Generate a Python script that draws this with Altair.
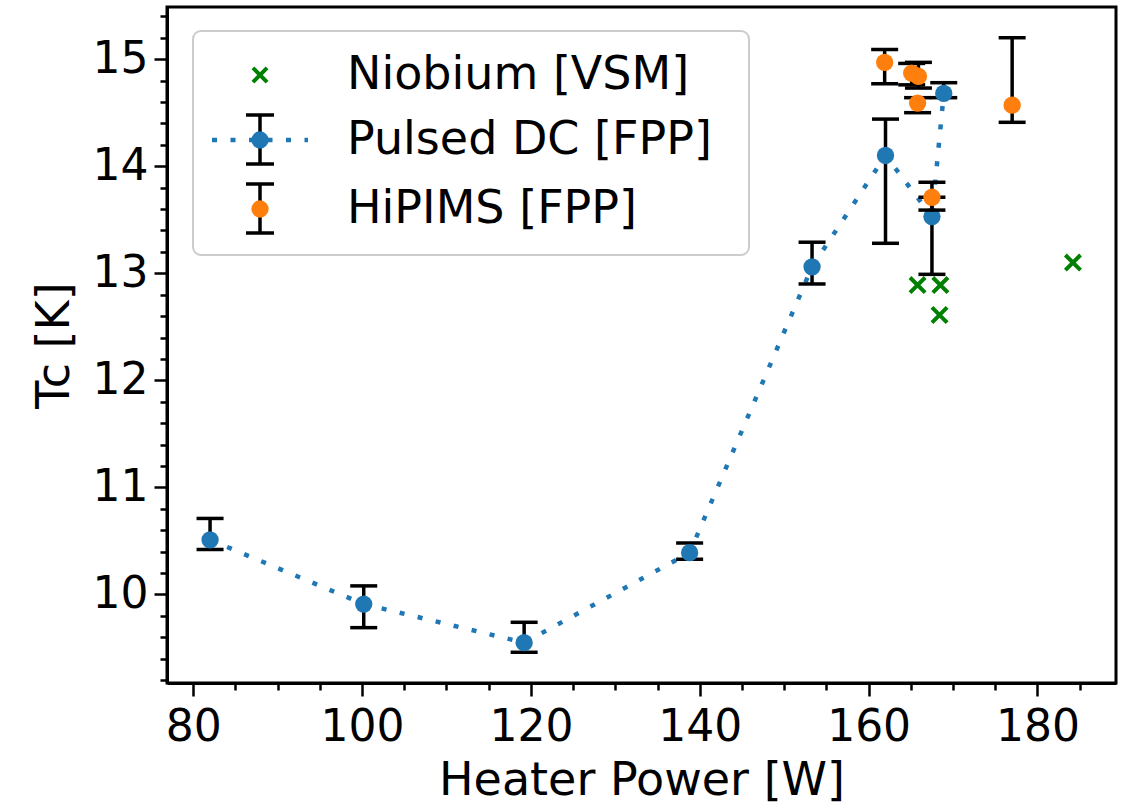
import altair as alt
import pandas as pd

# ---- data ----
pdc_x = [82.0, 100.2, 119.2, 138.8, 153.3, 162.0, 167.5, 168.9]
pdc_y = [10.51, 9.91, 9.55, 10.39, 13.06, 14.10, 13.53, 14.68]
pdc_lo = [10.42, 9.69, 9.46, 10.33, 12.90, 13.28, 12.99, 14.64]
pdc_hi = [10.71, 10.08, 9.74, 10.48, 13.29, 14.44, 13.71, 14.78]

hip_x = [161.9, 165.1, 165.9, 165.8, 167.5, 177.0]
hip_y = [14.97, 14.87, 14.84, 14.59, 13.71, 14.57]
hip_lo = [14.77, 14.76, 14.73, 14.50, 13.59, 14.41]
hip_hi = [15.09, 14.96, 14.97, 14.64, 13.85, 15.20]

nb_x = [165.8, 168.5, 168.4, 184.2]
nb_y = [12.89, 12.89, 12.61, 13.10]

legend_labels = ["Niobium [VSM]", "Pulsed DC [FPP]", "HiPIMS [FPP]"]

x_major = [80, 100, 120, 140, 160, 180]
x_ticks = [80 + 5 * i for i in range(22)]          # minor every 5 W
y_major = [10, 11, 12, 13, 14, 15]
y_ticks = [round(9.2 + 0.2 * i, 1) for i in range(32)]  # minor every 0.2 K

BLUE = "#1f77b4"
ORANGE = "#ff7f0e"
GREEN = "#008000"
FONT = "DejaVu Sans"

pdc = pd.DataFrame({"x": pdc_x, "y": pdc_y, "lo": pdc_lo, "hi": pdc_hi})
hip = pd.DataFrame({"x": hip_x, "y": hip_y, "lo": hip_lo, "hi": hip_hi})
nb = pd.DataFrame({"x": nb_x, "y": nb_y})

xaxis = alt.Axis(
    values=x_ticks,
    labelExpr="datum.value % 20 === 0 ? datum.label : ''",
    tickSize={"condition": {"test": "datum.value % 20 === 0", "value": 13}, "value": 7},
    labelPadding=9,
    titlePadding=9,
)
yaxis = alt.Axis(
    values=y_ticks,
    labelExpr="abs(datum.value - round(datum.value)) < 0.001 ? format(round(datum.value), 'd') : ''",
    tickSize={"condition": {"test": "abs(datum.value - round(datum.value)) < 0.001", "value": 13}, "value": 7},
    labelPadding=6,
    titlePadding=14,
)

xs = alt.Scale(domain=[76.9, 189.3], nice=False, zero=False)
ys = alt.Scale(domain=[9.173, 15.487], nice=False, zero=False)

X = alt.X("x:Q", scale=xs, axis=xaxis, title="Heater Power [W]")
Y = alt.Y("y:Q", scale=ys, axis=yaxis, title="Tc [K]")
Ylo = alt.Y("lo:Q", scale=ys, axis=yaxis, title="Tc [K]")
Yhi = alt.Y("hi:Q", scale=ys, axis=yaxis, title="Tc [K]")

XPATH = "M-1,-1L1,1M1,-1L-1,1"

nb_layer = alt.Chart(nb).mark_point(
    shape=XPATH, filled=False, stroke=GREEN, strokeWidth=4, size=230, opacity=1
).encode(x=X, y=Y)

def err_layers(df, color, line=False):
    layers = []
    if line:
        layers.append(
            alt.Chart(df).mark_line(color=color, strokeWidth=4.5, strokeDash=[5, 13.5]).encode(x=X, y=Y)
        )
    layers.append(
        alt.Chart(df).mark_rule(color="black", strokeWidth=3.5).encode(x=X, y=Ylo, y2="hi:Q")
    )
    layers.append(
        alt.Chart(df).mark_tick(color="black", orient="horizontal", size=27, thickness=3.5, opacity=1).encode(x=X, y=Ylo)
    )
    layers.append(
        alt.Chart(df).mark_tick(color="black", orient="horizontal", size=27, thickness=3.5, opacity=1).encode(x=X, y=Yhi)
    )
    layers.append(
        alt.Chart(df).mark_circle(color=color, size=300, opacity=1).encode(x=X, y=Y)
    )
    return layers

one = pd.DataFrame({"k": [0]})

# ---- hand-drawn legend (matplotlib style) ----
leg = []
leg.append(
    alt.Chart(one).mark_rect(fill="white", fillOpacity=0.8, stroke="#cccccc", strokeWidth=2, cornerRadius=8).encode(
        x=alt.value(26), x2=alt.value(582), y=alt.value(24), y2=alt.value(248)
    )
)
row_y = [68, 133, 202]
sym_x = 93
# Niobium
leg.append(
    alt.Chart(one).mark_point(shape=XPATH, filled=False, stroke=GREEN, strokeWidth=4, size=200, opacity=1).encode(
        x=alt.value(sym_x), y=alt.value(row_y[0])
    )
)
# Pulsed DC: dotted line + errorbar + marker
leg.append(
    alt.Chart(one).mark_rule(color=BLUE, strokeWidth=4.5, strokeDash=[5, 13.5]).encode(
        x=alt.value(45), x2=alt.value(141), y=alt.value(row_y[1])
    )
)
for ry, col in [(row_y[1], BLUE), (row_y[2], ORANGE)]:
    leg.append(
        alt.Chart(one).mark_rule(color="black", strokeWidth=3.5).encode(
            x=alt.value(sym_x), y=alt.value(ry - 25), y2=alt.value(ry + 24)
        )
    )
    for cy in (ry - 25, ry + 24):
        leg.append(
            alt.Chart(one).mark_rule(color="black", strokeWidth=3.5).encode(
                x=alt.value(sym_x - 14), x2=alt.value(sym_x + 14), y=alt.value(cy)
            )
        )
    leg.append(
        alt.Chart(one).mark_circle(color=col, size=300, opacity=1).encode(x=alt.value(sym_x), y=alt.value(ry))
    )
for lbl, ry in zip(legend_labels, row_y):
    leg.append(
        alt.Chart(one).mark_text(
            text=lbl, align="left", baseline="middle", font=FONT, fontSize=46, color="black"
        ).encode(x=alt.value(180), y=alt.value(ry))
    )

layers = [nb_layer] + err_layers(pdc, BLUE, line=True) + err_layers(hip, ORANGE) + leg

chart = (
    alt.layer(*layers)
    .properties(
        width=949,
        height=676,
        autosize=alt.AutoSizeParams(type="none"),
        padding={"left": 167, "top": 7, "right": 17, "bottom": 126},
        background="white",
    )
    .configure_view(stroke="black", strokeWidth=3)
    .configure_axis(
        domainColor="black",
        domainWidth=3,
        tickColor="black",
        tickWidth=2.5,
        labelFont=FONT,
        labelFontSize=44,
        labelColor="black",
        titleFont=FONT,
        titleFontSize=46,
        titleFontWeight="normal",
        titleColor="black",
        grid=False,
    )
)

chart.save("out.html", embed_options={"renderer": "svg", "actions": False})
